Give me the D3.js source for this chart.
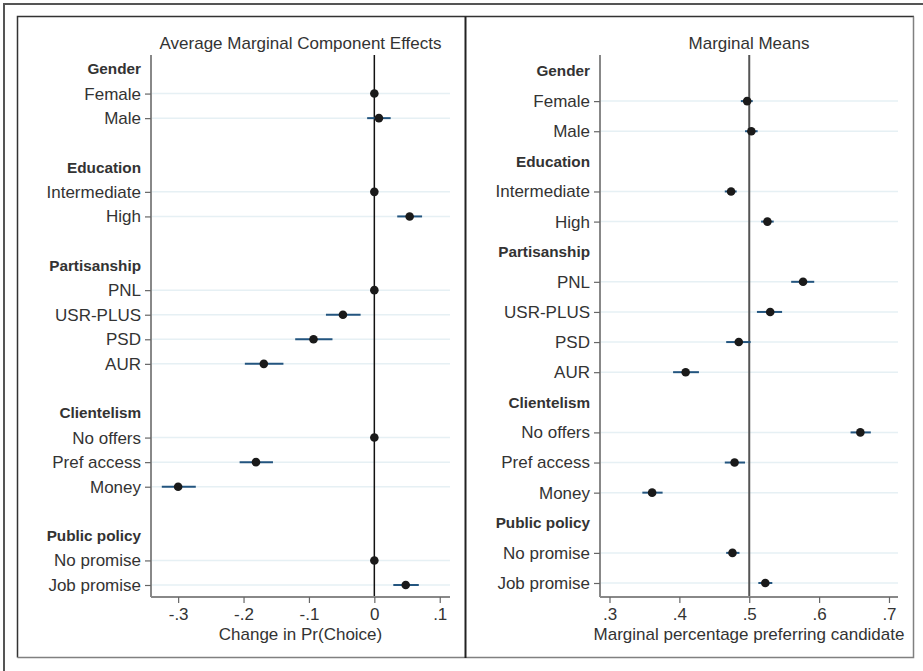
<!DOCTYPE html>
<html>
<head>
<meta charset="utf-8">
<script src="https://cdn.jsdelivr.net/npm/d3@7"></script>
<style>
  body { margin: 0; background: #fff; }
  svg text { font-family: "Liberation Sans", Arial, Helvetica, sans-serif; fill: #333; }
</style>
</head>
<body>
<svg id="chart" width="923" height="671"></svg>
<script>
// --- data ---
const groups = ["Gender", "Education", "Partisanship", "Clientelism", "Public policy"];
const levels = [
  ["Female", "Male"],
  ["Intermediate", "High"],
  ["PNL", "USR-PLUS", "PSD", "AUR"],
  ["No offers", "Pref access", "Money"],
  ["No promise", "Job promise"]
];

// AMCE (reference levels at 0, no interval)
const amce   = [0, 0.007, 0, 0.054, 0, -0.048, -0.093, -0.169, 0, -0.181, -0.300, 0, 0.048];
const amceLo = [null, -0.011, null, 0.035, null, -0.074, -0.121, -0.198, null, -0.206, -0.325, null, 0.029];
const amceHi = [null, 0.025, null, 0.073, null, -0.021, -0.064, -0.139, null, -0.155, -0.273, null, 0.068];

// marginal means
const mm   = [0.497, 0.503, 0.474, 0.526, 0.577, 0.530, 0.485, 0.409, 0.659, 0.479, 0.361, 0.476, 0.523];
const mmLo = [0.488, 0.494, 0.465, 0.517, 0.560, 0.511, 0.467, 0.391, 0.645, 0.465, 0.347, 0.467, 0.513];
const mmHi = [0.505, 0.512, 0.482, 0.535, 0.593, 0.547, 0.502, 0.428, 0.674, 0.494, 0.376, 0.486, 0.533];

const amceTicks = [-0.3, -0.2, -0.1, 0, 0.1];
const mmTicks = [0.3, 0.4, 0.5, 0.6, 0.7];

const svg = d3.select("#chart");
// stata style: "-.3", ".1", "0"
const fmt = v => v === 0 ? "0" : (v < 0 ? "-" : "") + Math.abs(v).toFixed(1).replace(/^0/, "");

// outer frame
svg.append("path")
  .attr("d", "M4,680 L4,4 L930,4")
  .attr("fill", "none").attr("stroke", "#555").attr("stroke-width", 2);

// panel frames
svg.append("path").attr("d", "M17.5,657.5 L17.5,16.5 L914,16.5")
  .attr("fill", "none").attr("stroke", "#333").attr("stroke-width", 1.5);
svg.append("path").attr("d", "M17.5,657.5 L913.5,657.5 L913.5,16.5")
  .attr("fill", "none").attr("stroke", "#808080").attr("stroke-width", 1.5);
svg.append("line").attr("x1", 465.5).attr("x2", 465.5).attr("y1", 16.5).attr("y2", 658)
  .attr("stroke", "#222").attr("stroke-width", 2);

// build row layout: rows are either a header or a level
function buildRows(blankBetween) {
  const rows = [];
  let k = 0;
  groups.forEach((g, gi) => {
    if (gi > 0 && blankBetween) rows.push({type: "blank"});
    rows.push({type: "head", label: g});
    levels[gi].forEach(l => { rows.push({type: "item", label: l, i: k}); k++; });
  });
  rows.forEach((r, idx) => r.row = idx);
  return rows;
}

function drawPanel(opt) {
  const rows = buildRows(opt.blank);
  const items = rows.filter(r => r.type === "item");
  const heads = rows.filter(r => r.type === "head");

  const x = d3.scaleLinear().domain(opt.domain).range([opt.left, opt.right]);
  const y = d3.scaleLinear().domain([0, rows.length - 1]).range([opt.yFirst, opt.yLast]);

  const g = svg.append("g");

  // title
  g.append("text")
    .attr("x", (opt.left + opt.right) / 2).attr("y", 49)
    .attr("text-anchor", "middle").style("font-size", "17px")
    .text(opt.title);

  // grid lines
  g.selectAll(".grid").data(items).join("line")
    .attr("x1", opt.left).attr("x2", opt.right)
    .attr("y1", d => y(d.row)).attr("y2", d => y(d.row))
    .attr("stroke", "#e6f0f4").attr("stroke-width", 1.5);

  // reference line
  g.append("line")
    .attr("x1", x(opt.ref)).attr("x2", x(opt.ref))
    .attr("y1", opt.top).attr("y2", opt.bottom)
    .attr("stroke", opt.refColor).attr("stroke-width", opt.refWidth);

  // y axis with level labels
  const yAxis = d3.axisLeft(y)
    .tickValues(items.map(d => d.row))
    .tickFormat(v => rows[v].label)
    .tickSize(6).tickPadding(4);
  const ya = g.append("g").attr("transform", `translate(${opt.left},0)`).call(yAxis);
  ya.select(".domain").attr("d", `M0,${opt.top}V${opt.bottom}`)
    .attr("stroke", "#888").attr("stroke-width", 2);
  ya.selectAll(".tick line").attr("stroke", "#666").attr("stroke-width", 1.2);
  ya.selectAll(".tick text").style("font-size", "17px").attr("fill", "#333")
    .style("font-family", "'Liberation Sans', Arial, sans-serif");

  // bold group headers
  g.selectAll(".head").data(heads).join("text")
    .attr("x", opt.left - 10).attr("y", d => y(d.row)).attr("dy", "0.35em")
    .attr("text-anchor", "end").style("font-size", "15.3px").style("font-weight", "bold")
    .text(d => d.label);

  // x axis
  const xAxis = d3.axisBottom(x).tickValues(opt.ticks).tickFormat(fmt)
    .tickSize(6).tickPadding(5);
  const xa = g.append("g").attr("transform", `translate(0,${opt.bottom})`).call(xAxis);
  xa.select(".domain").attr("d", `M${opt.left},0H${opt.right}`)
    .attr("stroke", "#888").attr("stroke-width", 2);
  xa.selectAll(".tick line").attr("stroke", "#666").attr("stroke-width", 1.2);
  xa.selectAll(".tick text").style("font-size", "17px").attr("fill", "#333")
    .style("font-family", "'Liberation Sans', Arial, sans-serif");

  g.append("text")
    .attr("x", (opt.left + opt.right) / 2).attr("y", 639.5)
    .attr("text-anchor", "middle").style("font-size", "17px")
    .text(opt.xlabel);

  // confidence intervals
  g.selectAll(".ci").data(items.filter(d => opt.lo[d.i] != null)).join("line")
    .attr("x1", d => x(opt.lo[d.i])).attr("x2", d => x(opt.hi[d.i]))
    .attr("y1", d => y(d.row)).attr("y2", d => y(d.row))
    .attr("stroke", "#23557f").attr("stroke-width", 2);

  // points
  g.selectAll(".pt").data(items).join("circle")
    .attr("cx", d => x(opt.est[d.i])).attr("cy", d => y(d.row))
    .attr("r", 4.3).attr("fill", "#1a1a1a");
}

drawPanel({
  title: "Average Marginal Component Effects",
  xlabel: "Change in Pr(Choice)",
  blank: true,
  domain: [-0.3415, 0.1157], left: 151, right: 450,
  ticks: amceTicks,
  yFirst: 69, yLast: 585, top: 55, bottom: 597,
  ref: 0, refColor: "#111", refWidth: 1.5,
  est: amce, lo: amceLo, hi: amceHi
});

drawPanel({
  title: "Marginal Means",
  xlabel: "Marginal percentage preferring candidate",
  blank: false,
  domain: [0.2864, 0.7129], left: 600, right: 898,
  ticks: mmTicks,
  yFirst: 71, yLast: 583, top: 55, bottom: 597,
  ref: 0.5, refColor: "#555", refWidth: 2,
  est: mm, lo: mmLo, hi: mmHi
});
</script>
</body>
</html>
